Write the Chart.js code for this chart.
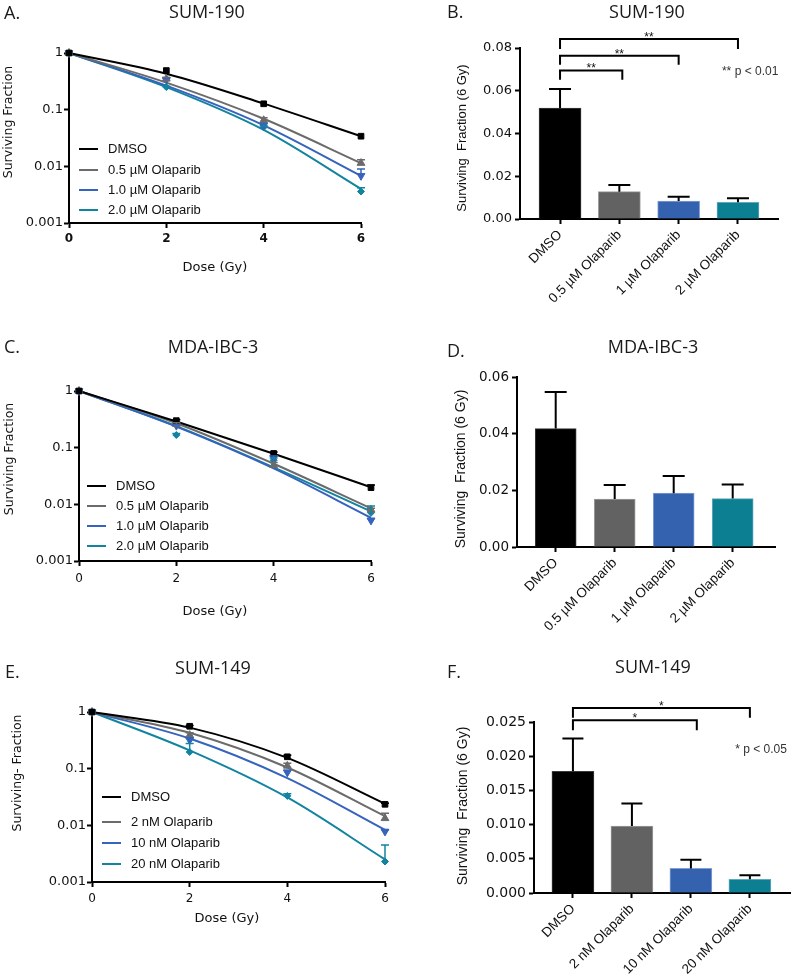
<!DOCTYPE html>
<html>
<head>
<meta charset="utf-8">
<title>Olaparib clonogenic survival</title>
<script src="https://cdn.jsdelivr.net/npm/chart.js@4.4.1/dist/chart.umd.min.js"></script>
<style>
  body { margin: 0; background: #fff; }
  #fig { position: relative; width: 793px; height: 975px; overflow: hidden; }
  canvas { position: absolute; }
  .tag, .head { position: absolute; font-family: "Open Sans", sans-serif; font-size: 18px; line-height: 24px; color: #1a1a1a; white-space: nowrap; }
  .head { width: 200px; text-align: center; }
  .ax { position: absolute; white-space: pre; line-height: 16px; color: #111; transform: translate(-50%, -50%); }
  .ax.v { transform: translate(-50%, -50%) rotate(-90deg); }
  .dj { font-family: "DejaVu Sans"; }
  .ar { font-family: "Liberation Sans"; }
</style>
</head>
<body>
<div id="fig">
  <canvas id="chartA" width="400" height="320" style="left:0;top:0"></canvas>
  <canvas id="chartB" width="393" height="320" style="left:400px;top:0"></canvas>
  <canvas id="chartC" width="400" height="310" style="left:0;top:330px"></canvas>
  <canvas id="chartD" width="393" height="310" style="left:400px;top:330px"></canvas>
  <canvas id="chartE" width="400" height="335" style="left:0;top:640px"></canvas>
  <canvas id="chartF" width="393" height="335" style="left:400px;top:640px"></canvas>

  <div class="tag" style="left:4px;top:0">A.</div>
  <div class="head" style="left:107px;top:-1px">SUM-190</div>
  <div class="tag" style="left:447px;top:-1px">B.</div>
  <div class="head" style="left:547px;top:-1px">SUM-190</div>
  <div class="tag" style="left:4px;top:334px">C.</div>
  <div class="head" style="left:113px;top:334px">MDA-IBC-3</div>
  <div class="tag" style="left:447px;top:338px">D.</div>
  <div class="head" style="left:553px;top:334px">MDA-IBC-3</div>
  <div class="tag" style="left:5px;top:659px">E.</div>
  <div class="head" style="left:113px;top:655px">SUM-149</div>
  <div class="tag" style="left:447px;top:659px">F.</div>
  <div class="head" style="left:553px;top:654px">SUM-149</div>

  <div class="ax v dj" style="left:8px;top:122px;font-size:12.5px">Surviving Fraction</div>
  <div class="ax dj" style="left:215px;top:267px;font-size:13px">Dose (Gy)</div>
  <div class="ax v dj" style="left:9px;top:459px;font-size:12.5px">Surviving Fraction</div>
  <div class="ax dj" style="left:215px;top:611px;font-size:13px">Dose (Gy)</div>
  <div class="ax v dj" style="left:17px;top:773px;font-size:12.5px">Surviving- Fraction</div>
  <div class="ax dj" style="left:227px;top:918px;font-size:13px">Dose (Gy)</div>
  <div class="ax v ar" style="left:462px;top:138px;font-size:13px">Surviving  Fraction (6 Gy)</div>
  <div class="ax v ar" style="left:460px;top:469px;font-size:14px">Surviving  Fraction (6 Gy)</div>
  <div class="ax v ar" style="left:462px;top:806px;font-size:14px">Surviving  Fraction (6 Gy)</div>
</div>

<script>
Chart.defaults.font.family = "DejaVu Sans";
Chart.defaults.color = "#111";

// shared
const doses = [0, 2, 4, 6];
const sfTicks = [0.001, 0.01, 0.1, 1];
const lineColors = ["#000000", "#6b6b6b", "#3563bd", "#12849f"];
const markStyles = ["rect", "triangle", "triangle", "rectRot"];
const markTurns = [0, 0, 180, 0];
const markSizes = [4, 4.5, 4.5, 3.5];
const barFills = ["#000000", "#626262", "#3462ae", "#0d7f93"];
const barEdges = ["#3a3a3a", "#9c9c9c", "#86a0d4", "#5fa9b9"];

// A. SUM-190 survival curves
const aNames = ["DMSO", "0.5 µM Olaparib", "1.0 µM Olaparib", "2.0 µM Olaparib"];
const aDmso = [1, 0.49, 0.127, 0.034];
const aOla05 = [1, 0.35, 0.065, 0.0114];
const aOla10 = [1, 0.34, 0.053, 0.0068];
const aOla20 = [1, 0.25, 0.049, 0.0036];
const aFitDmso = [1, 0.43, 0.128, 0.034];
const aFitOla05 = [1, 0.30, 0.069, 0.0114];
const aFitOla10 = [1, 0.265, 0.053, 0.0068];
const aFitOla20 = [1, 0.25, 0.044, 0.0040];
const aErrDmso = [0, 0, 0, 0];
const aErrOla05 = [0, 0.02, 0.007, 0.0017];
const aErrOla10 = [0, 0.015, 0.004, 0.0022];
const aErrOla20 = [0, 0.01, 0.003, 0.0006];

// C. MDA-IBC-3 survival curves
const cNames = ["DMSO", "0.5 µM Olaparib", "1.0 µM Olaparib", "2.0 µM Olaparib"];
const cDmso = [1, 0.30, 0.079, 0.0197];
const cOla05 = [1, 0.26, 0.049, 0.0080];
const cOla10 = [1, 0.245, 0.066, 0.0052];
const cOla20 = [1, 0.167, 0.060, 0.0071];
const cFitDmso = [1, 0.29, 0.078, 0.020];
const cFitOla05 = [1, 0.27, 0.052, 0.0085];
const cFitOla10 = [1, 0.235, 0.043, 0.0058];
const cFitOla20 = [1, 0.24, 0.045, 0.0075];
const cErrDmso = [0, 0.01, 0.005, 0.0023];
const cErrOla05 = [0, 0.015, 0.006, 0.0005];
const cErrOla10 = [0, 0.01, 0.005, 0.0004];
const cErrOla20 = [0, 0.01, 0.006, 0.0022];

// E. SUM-149 survival curves
const eNames = ["DMSO", "2 nM Olaparib", "10 nM Olaparib", "20 nM Olaparib"];
const eDmso = [1, 0.56, 0.162, 0.0235];
const eOla2 = [1, 0.39, 0.112, 0.0133];
const eOla10 = [1, 0.32, 0.086, 0.0078];
const eOla20 = [1, 0.197, 0.033, 0.0023];
const eFitDmso = [1, 0.53, 0.155, 0.024];
const eFitOla2 = [1, 0.43, 0.105, 0.0145];
const eFitOla10 = [1, 0.34, 0.068, 0.0083];
const eFitOla20 = [1, 0.21, 0.031, 0.0025];
const eErrDmso = [0, 0.02, 0.01, 0.001];
const eErrOla2 = [0, 0.04, 0.012, 0.003];
const eErrOla10 = [0, 0.03, 0.008, 0.0005];
const eErrOla20 = [0, 0.08, 0.003, 0.0022];

// B. SUM-190 at 6 Gy
const bCats = ["DMSO", "0.5 µM Olaparib", "1 µM Olaparib", "2 µM Olaparib"];
const bValues = [0.0519, 0.0128, 0.0084, 0.0078];
const bErrs = [0.0089, 0.0031, 0.0020, 0.0019];
const bTicks = [0, 0.02, 0.04, 0.06, 0.08];
const bBrackets = [
  { from: 0, to: 1.05, top: 0.0695, drop: 0.0652, mark: "**" },
  { from: 0, to: 2, top: 0.0764, drop: 0.0722, mark: "**" },
  { from: 0, to: 3, top: 0.0842, drop: 0.0795, mark: "**" },
];

// D. MDA-IBC-3 at 6 Gy
const dCats = ["DMSO", "0.5 µM Olaparib", "1 µM Olaparib", "2 µM Olaparib"];
const dValues = [0.0418, 0.0169, 0.0190, 0.0171];
const dErrs = [0.0129, 0.0050, 0.0061, 0.0050];
const dTicks = [0, 0.02, 0.04, 0.06];

// F. SUM-149 at 6 Gy
const fCats = ["DMSO", "2 nM Olaparib", "10 nM Olaparib", "20 nM Olaparib"];
const fValues = [0.0178, 0.0098, 0.0036, 0.0020];
const fErrs = [0.0048, 0.0033, 0.00126, 0.00058];
const fTicks = [0, 0.005, 0.01, 0.015, 0.02, 0.025];
const fBrackets = [
  { from: 0, to: 2.1, top: 0.02524, drop: 0.02379, mark: "*" },
  { from: 0, to: 3, top: 0.02704, drop: 0.02563, mark: "*" },
];

// plot frame: fixed chart area inside each canvas
function frame(area, w, h) {
  return {
    padding: { left: 0, top: area.t, right: w - area.r, bottom: 0 },
    yFit: (s) => { s.width = area.l; },
    xFit: (s) => { s.height = h - area.b; },
  };
}

function axisLook(font, pad) {
  return {
    border: { display: true, color: "#000", width: 2 },
    grid: { display: true, drawOnChartArea: false, drawTicks: true, tickLength: 5, tickWidth: 2, tickColor: "#000" },
    ticks: { font: font, color: "#111", padding: pad },
  };
}

// error bars (upper only)
const errorBars = {
  id: "errorBars",
  afterDatasetsDraw(chart) {
    const { ctx } = chart;
    const y = chart.scales.y;
    chart.data.datasets.forEach((ds, di) => {
      if (!ds.err) return;
      const meta = chart.getDatasetMeta(di);
      ctx.save();
      ctx.strokeStyle = ds.errColor || ds.borderColor;
      ctx.lineWidth = ds.errWidth || 1.5;
      meta.data.forEach((el, i) => {
        const e = ds.err[i];
        if (!e) return;
        const v = ds.data[i].y;
        const y1 = y.getPixelForValue(v + e);
        const cap = ds.errCap || 4;
        ctx.beginPath();
        ctx.moveTo(el.x, el.y);
        ctx.lineTo(el.x, y1);
        ctx.moveTo(el.x - cap, y1);
        ctx.lineTo(el.x + cap, y1);
        ctx.stroke();
      });
      ctx.restore();
    });
  },
};

function legendInside(names, x, ys) {
  return {
    id: "legendInside",
    afterDraw(chart) {
      const ctx = chart.ctx;
      ctx.save();
      ctx.font = "13px 'Liberation Sans'";
      ctx.textBaseline = "middle";
      names.forEach((name, i) => {
        ctx.strokeStyle = lineColors[i];
        ctx.lineWidth = 2;
        ctx.beginPath();
        ctx.moveTo(x, ys[i]);
        ctx.lineTo(x + 19, ys[i]);
        ctx.stroke();
        ctx.fillStyle = "#111";
        ctx.fillText(name, x + 29, ys[i]);
      });
      ctx.restore();
    },
  };
}

function brackets(list, note) {
  return {
    id: "brackets",
    afterDraw(chart) {
      const { ctx } = chart;
      const { x, y } = chart.scales;
      ctx.save();
      ctx.strokeStyle = "#000";
      ctx.lineWidth = 2;
      ctx.fillStyle = "#111";
      ctx.font = "12px 'Liberation Sans'";
      ctx.textAlign = "center";
      ctx.textBaseline = "alphabetic";
      (list || []).forEach((b) => {
        const x0 = x.getPixelForValue(b.from);
        const x1 = x.getPixelForValue(b.to);
        const yt = y.getPixelForValue(b.top);
        const yd = y.getPixelForValue(b.drop);
        ctx.beginPath();
        ctx.moveTo(x0, yd);
        ctx.lineTo(x0, yt);
        ctx.lineTo(x1, yt);
        ctx.lineTo(x1, yd);
        ctx.stroke();
        ctx.fillText(b.mark, (x0 + x1) / 2, yt + 2);
      });
      if (note) {
        ctx.fillStyle = "#333";
        ctx.textAlign = "left";
        ctx.textBaseline = "middle";
        ctx.fillText(note.text, x.getPixelForValue(note.x), y.getPixelForValue(note.y));
      }
      ctx.restore();
    },
  };
}

function curveChart(id, p) {
  const f = frame(p.area, p.w, p.h);
  const datasets = [];
  p.names.forEach((name, i) => {
    datasets.push({
      label: name,
      data: doses.map((d, j) => ({ x: d, y: p.fits[i][j] })),
      borderColor: lineColors[i],
      borderWidth: 2,
      pointRadius: 0,
      cubicInterpolationMode: "monotone",
      clip: false,
      order: 2,
    });
    datasets.push({
      label: name + " (mean)",
      data: doses.map((d, j) => ({ x: d, y: p.marks[i][j] })),
      showLine: false,
      pointStyle: markStyles[i],
      rotation: markTurns[i],
      pointRadius: markSizes[i],
      backgroundColor: lineColors[i],
      borderColor: lineColors[i],
      borderWidth: 1,
      err: p.errs[i],
      errCap: 4,
      clip: false,
      order: 1,
    });
  });
  const xl = axisLook(p.xFont, p.xPad);
  const yl = axisLook({ family: "DejaVu Sans", size: 13 }, 1);
  new Chart(document.getElementById(id), {
    type: "line",
    data: { datasets },
    options: {
      responsive: false,
      animation: false,
      devicePixelRatio: 1,
      layout: { padding: f.padding },
      plugins: { legend: { display: false }, tooltip: { enabled: false } },
      scales: {
        x: {
          type: "linear", min: 0, max: 6,
          afterFit: f.xFit,
          border: xl.border, grid: xl.grid,
          ticks: { ...xl.ticks, stepSize: 2 },
        },
        y: {
          type: "logarithmic", min: 0.001, max: 1,
          afterFit: f.yFit,
          afterBuildTicks: (s) => { s.ticks = sfTicks.map((v) => ({ value: v })); },
          border: yl.border, grid: yl.grid,
          ticks: { ...yl.ticks, callback: (v) => String(v) },
        },
      },
    },
    plugins: [errorBars, legendInside(p.names, p.legX, p.legY)],
  });
}

function barChart(id, p) {
  const f = frame(p.area, p.w, p.h);
  const xl = axisLook({ family: "Liberation Sans", size: p.catSize }, 3);
  const yl = axisLook({ family: "DejaVu Sans", size: p.tickSize }, 3);
  new Chart(document.getElementById(id), {
    type: "bar",
    data: {
      datasets: [{
        label: "Surviving fraction (6 Gy)",
        data: p.values.map((v, i) => ({ x: i, y: v })),
        backgroundColor: barFills,
        borderColor: barEdges,
        borderWidth: 1,
        barThickness: p.barW,
        err: p.errs,
        errColor: "#000",
        errWidth: 2,
        errCap: p.cap,
      }],
    },
    options: {
      responsive: false,
      animation: false,
      devicePixelRatio: 1,
      layout: { padding: f.padding },
      plugins: { legend: { display: false }, tooltip: { enabled: false } },
      scales: {
        x: {
          type: "linear", min: p.xMin, max: p.xMax, offset: false,
          afterFit: f.xFit,
          afterBuildTicks: (s) => { s.ticks = p.cats.map((c, i) => ({ value: i })); },
          border: xl.border, grid: { ...xl.grid, offset: false },
          ticks: { ...xl.ticks, autoSkip: false, minRotation: 45, maxRotation: 45, callback: (v) => p.cats[v] },
        },
        y: {
          min: 0, max: p.ticks[p.ticks.length - 1],
          afterFit: f.yFit,
          afterBuildTicks: (s) => { s.ticks = p.ticks.map((v) => ({ value: v })); },
          border: yl.border, grid: yl.grid,
          ticks: { ...yl.ticks, callback: (v) => v.toFixed(p.dec) },
        },
      },
    },
    plugins: [errorBars, brackets(p.brackets, p.note)],
  });
}

curveChart("chartA", {
  names: aNames,
  marks: [aDmso, aOla05, aOla10, aOla20],
  fits: [aFitDmso, aFitOla05, aFitOla10, aFitOla20],
  errs: [aErrDmso, aErrOla05, aErrOla10, aErrOla20],
  area: { l: 69, t: 53, r: 361, b: 223 }, w: 400, h: 320,
  xFont: { family: "DejaVu Sans", size: 12, weight: "bold" }, xPad: 4,
  legX: 79, legY: [149, 170, 190, 210],
});

curveChart("chartC", {
  names: cNames,
  marks: [cDmso, cOla05, cOla10, cOla20],
  fits: [cFitDmso, cFitOla05, cFitOla10, cFitOla20],
  errs: [cErrDmso, cErrOla05, cErrOla10, cErrOla20],
  area: { l: 79, t: 61, r: 371, b: 231 }, w: 400, h: 310,
  xFont: { family: "DejaVu Sans", size: 12 }, xPad: 6,
  legX: 87, legY: [156, 176, 196, 216],
});

curveChart("chartE", {
  names: eNames,
  marks: [eDmso, eOla2, eOla10, eOla20],
  fits: [eFitDmso, eFitOla2, eFitOla10, eFitOla20],
  errs: [eErrDmso, eErrOla2, eErrOla10, eErrOla20],
  area: { l: 92, t: 72, r: 385, b: 242 }, w: 400, h: 335,
  xFont: { family: "DejaVu Sans", size: 12 }, xPad: 5,
  legX: 102, legY: [157, 182, 203, 224],
});

barChart("chartB", {
  cats: bCats, values: bValues, errs: bErrs, ticks: bTicks, dec: 2,
  area: { l: 120, t: 48, r: 378, b: 219 }, w: 393, h: 320,
  xMin: -0.675, xMax: 3.675, barW: 42, cap: 11, tickSize: 13, catSize: 13.5,
  brackets: bBrackets, note: { text: "** p < 0.01", x: 2.73, y: 0.0689 },
});

barChart("chartD", {
  cats: dCats, values: dValues, errs: dErrs, ticks: dTicks, dec: 2,
  area: { l: 117, t: 47, r: 375, b: 217 }, w: 393, h: 310,
  xMin: -0.656, xMax: 3.717, barW: 41, cap: 11, tickSize: 13.5, catSize: 13.5,
  brackets: [], note: null,
});

barChart("chartF", {
  cats: fCats, values: fValues, errs: fErrs, ticks: fTicks, dec: 3,
  area: { l: 134, t: 82, r: 390, b: 253 }, w: 393, h: 335,
  xMin: -0.66, xMax: 3.68, barW: 42, cap: 10.5, tickSize: 14, catSize: 13.5,
  brackets: fBrackets, note: { text: "* p < 0.05", x: 2.75, y: 0.0209 },
});
</script>
</body>
</html>
